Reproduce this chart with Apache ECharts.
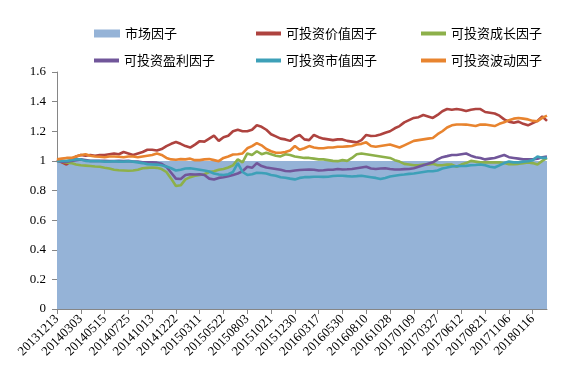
<!DOCTYPE html>
<html><head><meta charset="utf-8">
<script src="https://cdn.jsdelivr.net/npm/echarts@6/dist/echarts.min.js"></script>
<style>html,body{margin:0;padding:0;background:#fff}#c{width:568px;height:388px}</style>
</head><body><div id="c"></div>
<script>
const xLabels = ['20131213','20140303','20140515','20140725','20141013','20141222','20150311','20150522','20150803','20151021','20151230','20160317','20160530','20160810','20161028','20170109','20170327','20170612','20170821','20171106','20180116'];
const seriesNames = ['市场因子','可投资价值因子','可投资成长因子','可投资盈利因子','可投资市值因子','可投资波动因子'];
const yTicks = [0, 0.2, 0.4, 0.6, 0.8, 1, 1.2, 1.4, 1.6];

const marketFactor = [
1,1,1,1,1,1,1,1,1,1, 1,1,1,1,1,1,1,1,1,1, 1,1,1,1,1,1,1,1,1,1,
1,1,1,1,1,1,1,1,1,1, 1,1,1,1,1,1,1,1,1,1, 1,1,1,1,1,1,1,1,1,1,
1,1,1,1,1,1,1,1,1,1, 1,1,1,1,1,1,1,1,1,1, 1,1,1,1,1,1,1,1,1,1,
1,1,1,1,1,1,1,1,1,1, 1,1,1,1];
const valueFactor = [
1.01,0.99,0.975,1.00,1.03,1.04,1.035,1.04,1.035,1.04,
1.04,1.045,1.05,1.045,1.06,1.05,1.04,1.05,1.06,1.075,
1.075,1.07,1.08,1.10,1.115,1.127,1.115,1.10,1.09,1.11,
1.133,1.13,1.15,1.17,1.135,1.16,1.17,1.20,1.21,1.20,
1.20,1.21,1.24,1.23,1.21,1.18,1.165,1.15,1.145,1.135,
1.16,1.175,1.145,1.14,1.175,1.16,1.15,1.145,1.14,1.145,
1.145,1.135,1.13,1.125,1.14,1.175,1.168,1.17,1.178,1.19,
1.20,1.22,1.235,1.26,1.275,1.29,1.295,1.31,1.30,1.29,
1.31,1.335,1.35,1.345,1.35,1.345,1.336,1.345,1.35,1.35,
1.33,1.325,1.32,1.305,1.28,1.265,1.257,1.265,1.25,1.24,
1.255,1.27,1.30,1.27];
const growthFactor = [
1.0,0.995,0.99,0.985,0.975,0.97,0.968,0.965,0.962,0.96,
0.953,0.948,0.94,0.937,0.935,0.933,0.935,0.94,0.95,0.953,
0.955,0.953,0.945,0.925,0.88,0.83,0.835,0.875,0.89,0.90,
0.905,0.91,0.925,0.93,0.94,0.945,0.955,0.97,1.01,0.99,
1.05,1.04,1.065,1.045,1.055,1.045,1.035,1.03,1.045,1.04,
1.03,1.025,1.02,1.02,1.015,1.01,1.01,1.005,1.0,0.998,
1.005,1.0,1.02,1.045,1.05,1.045,1.04,1.035,1.03,1.025,
1.02,1.005,0.995,0.98,0.976,0.97,0.97,0.975,0.976,0.98,
0.97,0.97,0.976,0.975,0.96,0.975,0.985,1.0,0.995,0.99,
0.99,0.99,0.99,0.99,0.985,0.978,0.978,0.98,0.985,0.99,
0.985,0.975,1.0,1.02];
const profitFactor = [
1.0,0.995,0.995,1.0,1.005,1.01,1.005,1.0,1.0,1.0,
1.0,0.998,0.998,1.0,0.998,1.0,0.995,0.995,0.99,0.99,
0.99,0.988,0.98,0.96,0.92,0.88,0.878,0.905,0.91,0.908,
0.91,0.905,0.88,0.874,0.885,0.89,0.897,0.905,0.915,0.93,
0.96,0.953,0.985,0.965,0.955,0.95,0.945,0.94,0.932,0.93,
0.935,0.938,0.94,0.942,0.94,0.935,0.937,0.94,0.94,0.945,
0.942,0.943,0.945,0.95,0.955,0.96,0.948,0.945,0.948,0.95,
0.945,0.942,0.942,0.944,0.945,0.95,0.96,0.97,0.98,0.99,
1.01,1.025,1.032,1.04,1.04,1.045,1.05,1.035,1.025,1.02,
1.01,1.015,1.02,1.03,1.04,1.025,1.02,1.015,1.01,1.01,
1.01,1.015,1.025,1.03];
const sizeFactor = [
1.0,1.0,1.0,1.005,1.01,1.01,1.0,0.998,0.998,0.998,
0.995,0.995,0.998,0.995,0.995,0.998,0.995,0.99,0.985,0.978,
0.976,0.975,0.97,0.962,0.95,0.935,0.94,0.948,0.95,0.945,
0.94,0.935,0.928,0.915,0.908,0.905,0.91,0.925,0.985,0.925,
0.905,0.91,0.92,0.918,0.915,0.905,0.9,0.89,0.886,0.88,
0.875,0.885,0.89,0.89,0.893,0.893,0.892,0.893,0.898,0.9,
0.9,0.897,0.895,0.897,0.9,0.895,0.89,0.885,0.877,0.885,
0.895,0.9,0.905,0.908,0.912,0.915,0.92,0.925,0.93,0.93,
0.935,0.948,0.955,0.962,0.964,0.965,0.966,0.97,0.972,0.975,
0.97,0.96,0.955,0.97,0.985,0.995,0.99,0.99,0.995,0.998,
1.005,1.03,1.02,1.02];
const volFactor = [
1.01,1.015,1.02,1.02,1.03,1.04,1.045,1.035,1.03,1.028,
1.025,1.03,1.03,1.028,1.025,1.03,1.03,1.025,1.03,1.035,
1.04,1.05,1.04,1.02,1.01,1.008,1.012,1.01,1.015,1.005,
1.005,1.01,1.012,1.005,0.998,1.02,1.03,1.043,1.045,1.05,
1.085,1.10,1.12,1.105,1.08,1.065,1.055,1.055,1.06,1.07,
1.10,1.075,1.085,1.10,1.09,1.085,1.085,1.09,1.09,1.095,
1.095,1.098,1.10,1.11,1.115,1.125,1.10,1.095,1.10,1.105,
1.11,1.10,1.09,1.105,1.12,1.135,1.14,1.145,1.15,1.155,
1.18,1.20,1.225,1.24,1.246,1.246,1.245,1.24,1.235,1.245,
1.245,1.24,1.235,1.25,1.26,1.275,1.285,1.29,1.285,1.28,
1.27,1.268,1.29,1.305];

const labelStep = 5;      // data points between dated tick labels
const colors = ['#95B3D7','#AE433F','#8DB04A','#71569A','#3DA0B8','#E8842F'];
const lineData = [valueFactor, growthFactor, profitFactor, sizeFactor, volFactor];
const xMax = marketFactor.length - 1;
const tickVals = xLabels.map((_, k) => k * labelStep);
const toXY = arr => arr.map((v, i) => [i, v]);

const chart = echarts.init(document.getElementById('c'), null, {renderer: 'canvas'});

const legendPos = [[94,27],[256,27],[421,27],[94,54],[256,54],[421,54]];
const legends = seriesNames.map((n, k) => ({
  left: legendPos[k][0], top: legendPos[k][1], padding: 0,
  itemWidth: k === 0 ? 26 : 25, itemHeight: k === 0 ? 8 : 4,
  selectedMode: false,
  data: [{name: n, icon: 'rect'}],
  textStyle: {fontFamily: 'Noto Sans CJK SC', fontSize: 13, color: '#000'}
}));

const series = [{
  name: seriesNames[0], type: 'line', data: toXY(marketFactor),
  showSymbol: false, symbol: 'none',
  lineStyle: {width: 0}, itemStyle: {color: colors[0]},
  areaStyle: {color: colors[0], opacity: 1}, z: 1
}].concat(lineData.map((arr, k) => ({
  name: seriesNames[k + 1], type: 'line', data: toXY(arr),
  showSymbol: false, symbol: 'none',
  lineStyle: {width: 2.6, color: colors[k + 1]},
  itemStyle: {color: colors[k + 1]}, z: 2 + k
})));

chart.setOption({
  animation: false,
  backgroundColor: '#fff',
  grid: {left: 57, right: 21, top: 72, bottom: 79, containLabel: false},
  legend: legends,
  xAxis: {
    type: 'value', min: 0, max: xMax, interval: labelStep,
    axisLine: {show: true, lineStyle: {color: '#868686', width: 1}},
    axisTick: {show: true, length: 5, lineStyle: {color: '#868686'}, customValues: tickVals},
    axisLabel: {
      rotate: 45, margin: 8, fontFamily: 'Liberation Serif', fontSize: 13, color: '#000',
      customValues: tickVals,
      formatter: v => (v % labelStep === 0 && xLabels[v / labelStep]) || ''
    },
    splitLine: {show: false}
  },
  yAxis: {
    type: 'value', min: yTicks[0], max: yTicks[yTicks.length - 1], interval: 0.2,
    axisLine: {show: true, lineStyle: {color: '#868686', width: 1}},
    axisTick: {show: true, length: 5, lineStyle: {color: '#868686'}},
    axisLabel: {margin: 11, fontFamily: 'Liberation Serif', fontSize: 13, color: '#000'},
    splitLine: {show: false}
  },
  series: series
});
</script>
</body></html>
